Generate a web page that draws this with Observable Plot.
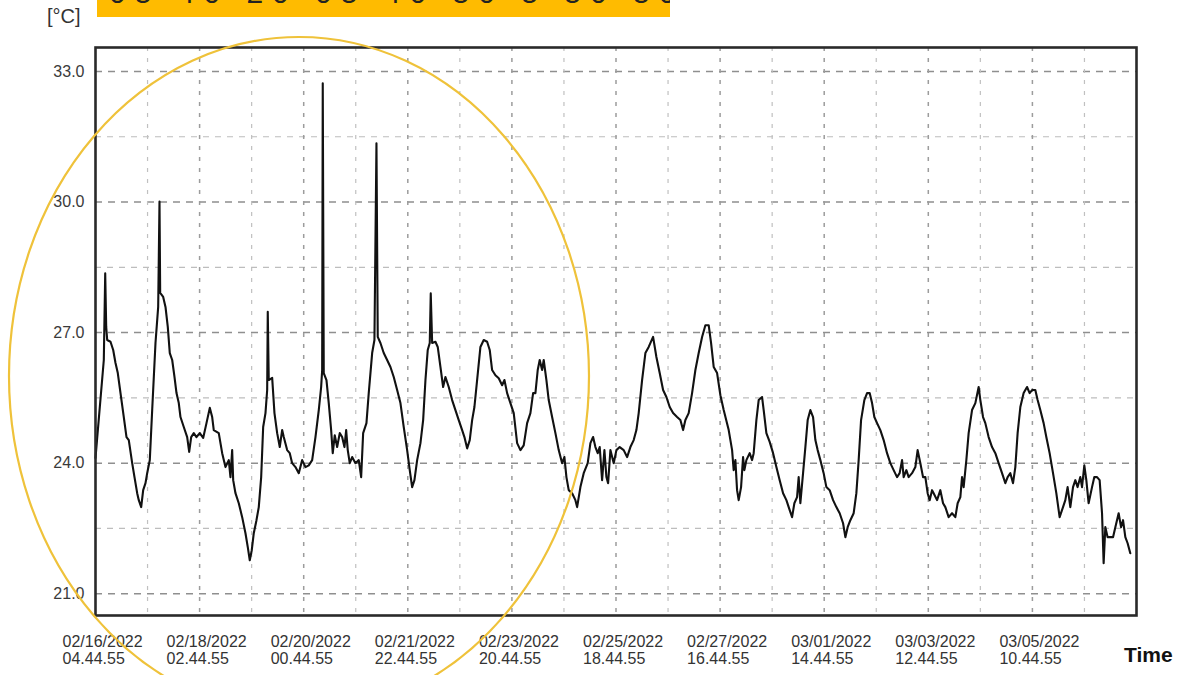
<!DOCTYPE html>
<html>
<head>
<meta charset="utf-8">
<script src="https://cdn.jsdelivr.net/npm/d3@7"></script>
<script src="https://cdn.jsdelivr.net/npm/@observablehq/plot@0.6"></script>
<style>
  html, body { margin: 0; padding: 0; background: #fff; }
  #wrap { position: relative; width: 1200px; height: 675px; overflow: hidden; background: #fff; font-family: "Liberation Sans", Arial, sans-serif; }
  #banner { position: absolute; left: 97px; top: 0; width: 573px; height: 17px; background: #FFBB00; overflow: hidden; }
  #banner span { position: absolute; left: 12px; top: -24px; font-size: 30px; letter-spacing: 9px; color: #222; white-space: nowrap; }
  #unit { position: absolute; left: 47px; top: 5px; font-size: 20px; color: #333; }
  #timeLbl { position: absolute; left: 1124px; top: 643px; font-size: 21px; font-weight: bold; color: #111; }
  #overlay { position: absolute; left: 0; top: 0; pointer-events: none; }
</style>
</head>
<body>
<div id="wrap">
  <div id="banner"><span>05 40 20 05 40 50 5 50 50</span></div>
  <div id="unit">[°C]</div>
  <div id="timeLbl">Time</div>
</div>
<script>
// ---- data ----
const startTime = "2022-02-16T04:44:55Z";
// hours since the first sample
const hours = [0,3.67,4.29,4.73,5.17,6.63,7.82,8.84,9.85,11.05,12.5,13.7,14.71,16.21,17.23,18.42,19.13,20.19,21.07,22.09,22.84,23.99,25.05,26.51,27.7,28.28,28.58,29.91,30.93,31.94,32.83,33.89,34.9,35.79,36.8,37.55,39.01,40.51,41.4,42.28,43.43,44.62,46.08,47.58,49.04,50.5,51.56,52.26,54.47,55.98,57.43,58.89,59.64,60.39,60.84,61.85,63.31,64.81,66.27,67.29,68.17,69.05,69.94,71.13,72.15,73.21,74.09,75.11,75.86,76.12,76.56,78.07,79.08,80.28,81.42,82.48,83.19,84.69,85.84,86.9,88.36,89.82,91.32,92.78,94.24,95.74,97.2,98.66,99.71,100.16,100.42,100.86,102.06,103.07,104.13,104.84,105.72,106.78,107.93,108.99,110.01,110.76,111.47,112.35,113.41,114.87,116.33,117.39,118.27,119.73,120.74,122.25,123.26,124.15,124.72,125.91,127.37,128.87,130.33,131.79,133.29,134.75,136.21,137.71,138.86,139.92,140.93,142.13,143.59,144.78,145.8,146.81,147.7,148.14,148.76,150.21,151.23,152.42,153.61,154.63,156.09,157.59,159.05,160.51,162.01,163.02,164.22,165.37,166.43,167.44,168.63,170.09,171.55,173.05,174.2,175.26,176.72,178.18,179.68,180.7,181.89,183.35,184.81,186.31,187.77,189.22,190.73,192.18,193.37,194.39,195.41,196.29,197.35,198.06,199.25,200.27,201.77,203.23,204.69,206.19,207.2,208.09,209.11,210.61,212.06,212.82,214.27,215.73,217.5,218.69,219.88,220.9,221.92,222.8,223.86,224.88,225.76,226.51,227.53,228.99,230.18,231.64,233.4,234.91,236.36,237.82,239.01,240.03,241.53,242.99,244.45,246.39,247.85,249.31,250.81,252.27,253.73,255.23,256.99,258.45,259.65,260.66,262.12,263.62,265.08,266.54,268.04,269.5,270.96,272.02,273.17,274.67,276.13,277.59,279.8,281.3,282,282.75,283.5,284.21,285.27,286.15,286.73,287.61,289.07,290.13,290.84,292.03,293.05,294.55,295.26,296.45,297.91,299.41,300.87,302.33,303.83,305.29,306.75,307.81,308.82,310.01,310.72,311.47,312.66,313.68,314.7,315.89,317.08,318.1,319.11,320.31,321.76,322.96,324.42,325.92,327.38,328.84,330.34,331.36,332.37,333.56,335.02,336.21,337.23,338.29,339.74,340.94,342.09,343.15,344.16,345.36,346.81,348.27,349.77,351.23,352.69,354.19,355.34,356.4,357.11,358.3,359.32,360.82,362.28,363.29,364.49,365.68,366.7,367.71,368.6,369.66,370.36,371.87,373.32,374.52,375.53,376.99,378.49,379.95,380.97,382.16,382.91,383.62,384.81,385.83,387.33,388.79,390.25,391,392.19,393.2,394.66,396.16,397.62,399.08,400.58,402.04,403.06,404.25,405.44,406.46,407.47,408.67,410.13,411.63,412.78,413.84,415.29,416.31,417.5,418.96,420.15,421.61,423.11,424.57,426.03,427.53,428.55,429.56,430.76,431.95,432.97,433.98,435.17,435.93,436.94,437.83,438.84,440.35,441.36,442.56,443.71,444.77,445.48,446.23,447.24,449.63,450.65,452.11,453.17,454.05,455.07,456.08,457.26];
// temperature [°C]
const temps = [24.12,26.37,28.36,27.13,26.83,26.79,26.6,26.3,26.07,25.61,25.06,24.6,24.53,24,23.68,23.31,23.15,22.99,23.38,23.54,23.77,24.07,25.22,26.76,27.59,30.01,27.91,27.82,27.59,27.13,26.53,26.37,25.98,25.61,25.38,25.06,24.83,24.6,24.26,24.6,24.69,24.6,24.69,24.58,24.92,25.27,25.06,24.76,24.69,24.23,23.91,24.07,23.68,24.3,23.61,23.31,23.08,22.76,22.39,22.07,21.77,22,22.39,22.69,22.99,23.68,24.83,25.15,25.68,27.48,25.91,25.96,25.15,24.69,24.37,24.76,24.6,24.3,24.23,24,23.91,23.77,24.07,23.91,23.95,24.07,24.6,25.22,25.75,26.14,32.73,26.07,25.91,25.38,24.76,24.23,24.64,24.37,24.69,24.6,24.37,24.76,24.3,24,24.14,24,24.07,23.68,24.69,24.92,25.61,26.53,26.83,31.35,26.9,26.76,26.53,26.37,26.21,25.98,25.68,25.38,24.83,24.3,23.84,23.45,23.61,24.07,24.46,24.99,25.91,26.6,26.76,27.9,26.76,26.79,26.67,26.21,25.75,25.98,25.75,25.45,25.22,24.99,24.76,24.6,24.34,24.53,24.99,25.29,25.91,26.67,26.83,26.79,26.6,26.14,26.02,25.95,25.79,25.91,25.61,25.38,25.15,24.46,24.3,24.41,24.92,25.15,25.61,25.61,26.14,26.37,26.14,26.37,25.91,25.45,25.06,24.69,24.3,24,24.14,23.68,23.38,23.31,23.15,22.99,23.45,23.77,24,24.46,24.6,24.37,24.23,24.37,23.61,24.3,23.68,23.54,24.3,24,24.3,24.37,24.3,24.14,24.37,24.53,24.76,25.15,25.91,26.53,26.67,26.9,26.44,26.07,25.68,25.52,25.29,25.15,25.06,24.99,24.76,24.99,25.15,25.61,26.14,26.53,26.9,27.17,27.17,26.76,26.21,26.07,25.56,25.22,24.76,24.3,23.84,24.07,23.38,23.15,23.45,24.14,23.84,24.07,24.23,24.07,24.23,24.99,25.45,25.52,25.22,24.69,24.49,24.23,23.91,23.61,23.31,23.15,22.92,22.76,23.08,23.22,23.68,23.08,23.77,24.37,24.99,25.22,25.06,24.53,24.3,24.07,23.77,23.45,23.38,23.15,22.99,22.85,22.62,22.3,22.53,22.69,22.85,23.31,24.07,24.99,25.45,25.61,25.61,25.38,25.06,24.92,24.76,24.53,24.23,24,23.84,23.68,23.77,24.07,23.68,23.84,23.68,23.77,23.91,24.3,24,23.68,23.68,23.31,23.15,23.38,23.31,23.15,23.38,23.08,22.99,22.76,22.85,22.76,23.08,23.22,23.68,23.45,24.07,24.69,25.22,25.38,25.75,25.45,25.06,24.92,24.6,24.37,24.23,24,23.77,23.54,23.68,23.77,23.54,23.91,24.69,25.29,25.61,25.75,25.61,25.68,25.68,25.45,25.22,24.92,24.6,24.23,23.77,23.31,22.76,22.99,23.15,23.45,22.99,23.45,23.61,23.45,23.68,23.45,23.95,23.61,23.08,23.45,23.68,23.68,23.61,22.85,21.7,22.53,22.3,22.3,22.53,22.85,22.53,22.69,22.3,22.16,21.93];

// axis ticks
const xTickLabels = ["02/16/2022\n04.44.55","02/18/2022\n02.44.55","02/20/2022\n00.44.55","02/21/2022\n22.44.55","02/23/2022\n20.44.55","02/25/2022\n18.44.55","02/27/2022\n16.44.55","03/01/2022\n14.44.55","03/03/2022\n12.44.55","03/05/2022\n10.44.55"];
const xTickHours = [0,46,92,138,184,230,276,322,368,414];
const gridStepHours = 23;
const xSpanHours = 460;
const yTicks = [21,24,27,30,33];
const yMinorTicks = [22.5,25.5,28.5,31.5];
const yDomain = [20.5,33.55];

if (hours.length !== temps.length) throw new Error("length mismatch " + hours.length + " vs " + temps.length);

const t0 = new Date(startTime).getTime();
const toDate = h => new Date(t0 + h * 3600e3);
const series = hours.map((h, i) => ({t: toDate(h), v: temps[i]}));
const labelDates = xTickHours.map(toDate);
const labelMap = new Map(labelDates.map((d, i) => [+d, xTickLabels[i]]));
const gridMajor = d3.range(2, xSpanHours / gridStepHours, 2).map(k => toDate(k * gridStepHours));
const gridMinor = d3.range(1, xSpanHours / gridStepHours, 2).map(k => toDate(k * gridStepHours));

const font = "Liberation Sans, Arial, sans-serif";
const chart = Plot.plot({
  width: 1200,
  height: 675,
  marginLeft: 95,
  marginRight: 64,
  marginTop: 47,
  marginBottom: 60,
  style: {fontFamily: font, background: "transparent", overflow: "visible"},
  x: {type: "utc", domain: [toDate(0), toDate(xSpanHours)]},
  y: {domain: yDomain},
  marks: [
    Plot.ruleY(yMinorTicks, {stroke: "#bdbdbd", strokeWidth: 1.2, strokeDasharray: "6,6"}),
    Plot.ruleY(yTicks, {stroke: "#8f8f8f", strokeWidth: 1.5, strokeDasharray: "7,6"}),
    Plot.ruleX(gridMinor, {stroke: "#c0c0c0", strokeWidth: 1.2, strokeDasharray: "4,7"}),
    Plot.ruleX(gridMajor, {stroke: "#9c9c9c", strokeWidth: 1.5, strokeDasharray: "4,7"}),
    Plot.line(series, {x: "t", y: "v", stroke: "#111", strokeWidth: 2.1, strokeLinejoin: "round"}),
    Plot.frame({stroke: "#2a2a2a", strokeWidth: 2.6}),
    Plot.axisY(yTicks, {tickSize: 0, tickPadding: 11, tickFormat: d => d.toFixed(1), fontSize: 16, fill: "#3a3a3a", label: null}),
    Plot.axisX({ticks: [], label: null, tickSize: 0}),
    Plot.text(labelDates, {
      x: d => d, y: yDomain[0], text: d => labelMap.get(+d),
      textAnchor: "start", lineAnchor: "top", lineHeight: 1.05,
      dx: -33, dy: 20, fontSize: 16, fill: "#333"
    })
  ]
});
document.getElementById("wrap").appendChild(chart);

// highlight ellipse annotation drawn over the chart
const ov = d3.select("#wrap").append("svg").attr("id", "overlay").attr("width", 1200).attr("height", 675);
ov.append("ellipse").attr("cx", 299).attr("cy", 376).attr("rx", 290).attr("ry", 339)
  .attr("fill", "none").attr("stroke", "#EFC23A").attr("stroke-width", 2.2);
</script>
</body>
</html>
